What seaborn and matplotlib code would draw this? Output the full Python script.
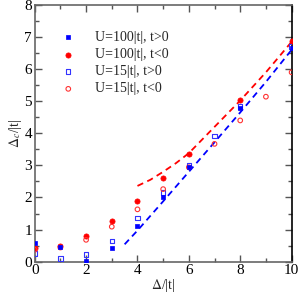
import numpy as np
import matplotlib
matplotlib.use("Agg")
import matplotlib.pyplot as plt
import seaborn as sns
import pandas as pd

sns.set_style("ticks")
plt.rcParams['font.family'] = ['Liberation Serif', 'DejaVu Serif']
plt.rcParams['mathtext.fontset'] = 'stix'

# Datos
x_u100_pos = [0, 1, 2, 3, 4, 5, 6, 8, 10]
y_u100_pos = [0.58, 0.45, 0.02, 0.42, 1.12, 2.01, 2.95, 4.78, 6.65]

x_u100_neg = [0, 1, 2, 3, 4, 5, 6, 8, 10]
y_u100_neg = [0.42, 0.50, 0.80, 1.27, 1.89, 2.60, 3.36, 5.05, 6.86]

x_u15_pos = [0, 1, 2, 3, 4, 5, 6, 7, 8, 10]
y_u15_pos = [0.25, 0.10, 0.22, 0.65, 1.36, 2.16, 3.02, 3.91, 4.83, 6.70]

x_u15_neg = [0, 1, 2, 3, 4, 5, 6, 7, 8, 9, 10]
y_u15_neg = [0.37, 0.44, 0.68, 1.09, 1.63, 2.26, 2.94, 3.67, 4.40, 5.14, 5.90]

# Curvas discontinuas
x_red_line = [4.0, 4.5, 5.0, 5.5, 6.0, 7.0, 8.0, 9.0, 10.0]
y_red_line = [2.36, 2.55, 2.80, 3.07, 3.38, 4.20, 5.02, 5.90, 6.85]

x_blue_line = [3.5, 4.0, 5.0, 6.0, 7.0, 8.0, 9.0, 10.0]
y_blue_line = [0.54, 0.97, 1.88, 2.80, 3.72, 4.65, 5.60, 6.60]

fig = plt.figure(figsize=(3.0, 2.97), dpi=100)
ax = fig.add_axes([0.1157, 0.119, 0.8563, 0.8645])

sns.lineplot(x=x_red_line, y=y_red_line, ax=ax, color='#ff0000',
             linestyle=(0, (3.5, 2.5)), linewidth=1.3)
sns.lineplot(x=x_blue_line, y=y_blue_line, ax=ax, color='#0000ff',
             linestyle=(0, (3.5, 2.5)), linewidth=1.3)

sns.scatterplot(x=x_u100_pos, y=y_u100_pos, ax=ax, marker='s', s=11,
                color='#0000ff', edgecolor='#0000ff', linewidth=0.5,
                label='U=100|t|, t>0', zorder=4)
sns.scatterplot(x=x_u100_neg, y=y_u100_neg, ax=ax, marker='o', s=14,
                color='#ff0000', edgecolor='#ff0000', linewidth=0.5,
                label='U=100|t|, t<0', zorder=3)
sns.scatterplot(x=x_u15_pos, y=y_u15_pos, ax=ax, marker='s', s=10,
                facecolor='none', edgecolor='#3333ff', linewidth=0.8,
                label='U=15|t|, t>0', zorder=3)
sns.scatterplot(x=x_u15_neg, y=y_u15_neg, ax=ax, marker='o', s=11,
                facecolor='none', edgecolor='#ff3333', linewidth=0.8,
                label='U=15|t|, t<0', zorder=3)

ax.set_xlim(0, 10)
ax.set_ylim(0, 8)
ax.set_xticks(np.arange(0, 11, 2))
ax.set_xticks(np.arange(0, 11, 1), minor=True)
ax.set_yticks(np.arange(0, 9, 1))
ax.set_yticks(np.arange(0, 8.5, 0.5), minor=True)
ax.tick_params(which='both', direction='in', top=True, right=True,
               labelsize=11, colors='#555555', labelcolor='black', pad=2)
ax.tick_params(which='major', length=5, width=1.0)
ax.tick_params(which='minor', length=3, width=1.0)

for side in ['left', 'bottom', 'top']:
    ax.spines[side].set_color('#666666')
    ax.spines[side].set_linewidth(1.2)
ax.spines['right'].set_color('black')
ax.spines['right'].set_linewidth(1.2)

ax.set_xlabel(r'$\Delta$/|t|', fontsize=10, labelpad=0)
ax.set_ylabel(r'$\Delta_c$/|t|', fontsize=10, labelpad=0)

leg = ax.legend(loc='upper left', frameon=False, fontsize=10,
                handletextpad=0.9, borderaxespad=0.0, labelspacing=0.3,
                markerscale=1.0, bbox_to_anchor=(0.055, 0.92))

fig.savefig('out.png', dpi=100)
